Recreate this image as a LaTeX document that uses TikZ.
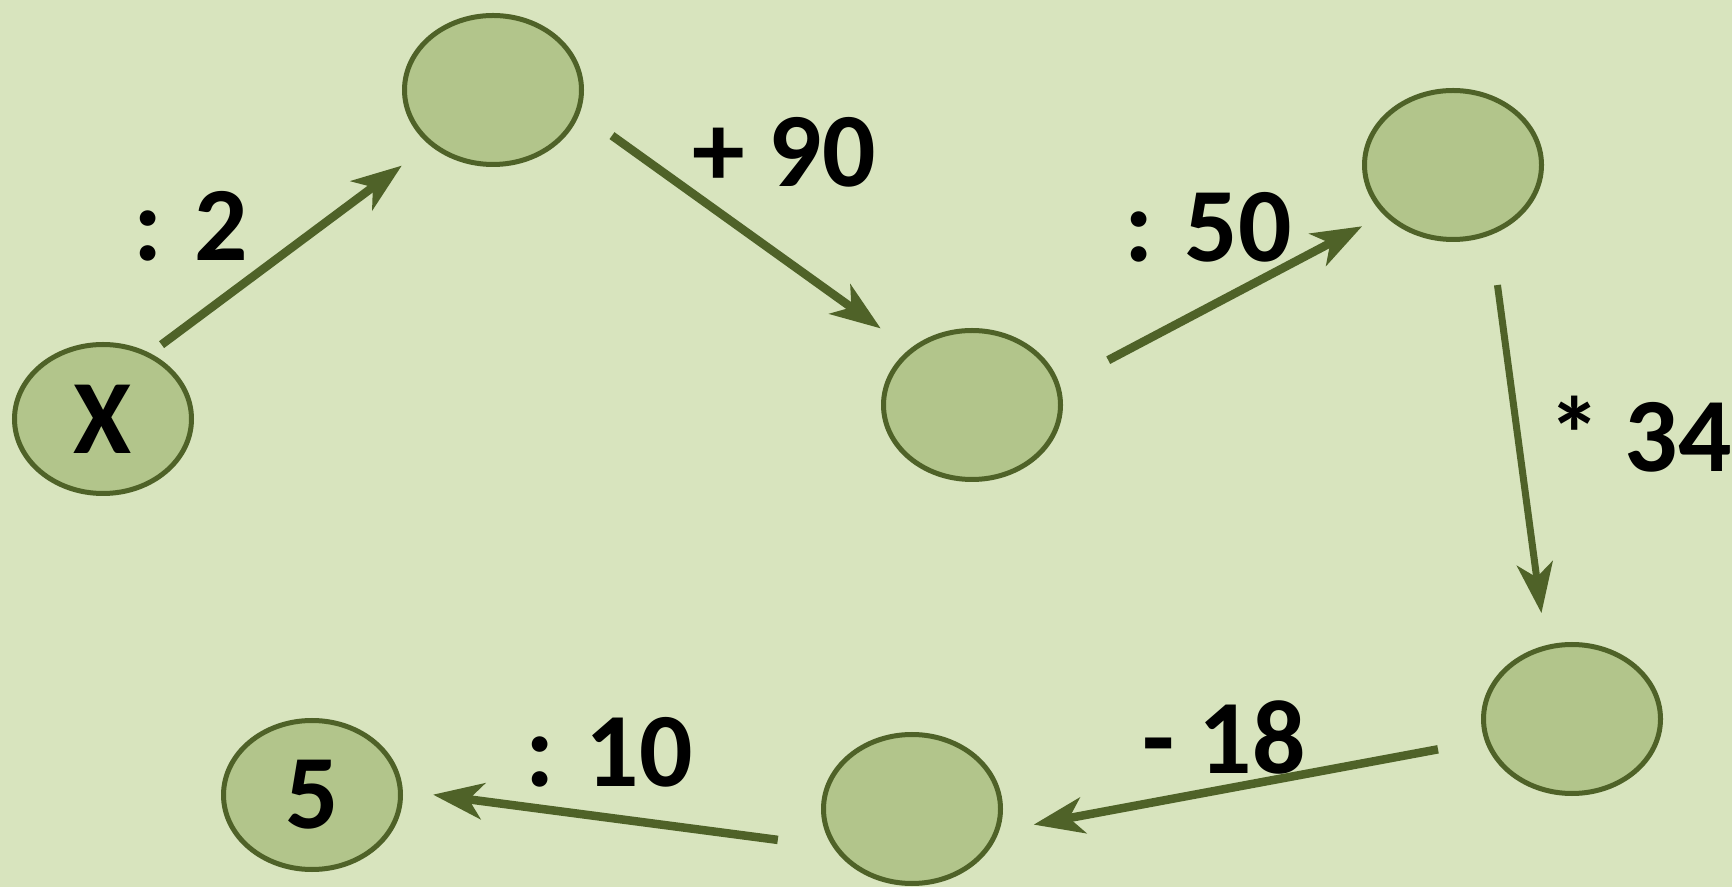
\documentclass[tikz,border=0pt]{standalone}
\usepackage{fontspec}
\setmainfont{Carlito}
\usetikzlibrary{arrows.meta, shapes.geometric}
\definecolor{bgcol}{HTML}{D8E4BE}
\definecolor{nodefill}{HTML}{B2C58B}
\definecolor{olive}{HTML}{4F6228}

\begin{document}
\begin{tikzpicture}[
    bubble/.style={ellipse, draw=olive, fill=nodefill, line width=0.05cm,
        minimum width=1.77cm, minimum height=1.49cm, inner sep=0pt, outer sep=0pt,
        font=\fontsize{30}{30}\selectfont\bfseries},
    flow/.style={draw=olive, line width=0.085cm,
        -{Stealth[length=0.5cm, width=0.36cm, inset=0.14cm]}},
    op/.style={font=\fontsize{30}{30}\selectfont\bfseries, inner sep=0pt}
]
    \fill[bgcol] (0,0) rectangle (17.32,-8.87);
    \useasboundingbox (0,0) rectangle (17.32,-8.87);

    % the chain of numbers
    \node[bubble] (x) at (1.03,-4.19) {X};
    \node[bubble] (a) at (4.93,-0.90) {};
    \node[bubble] (b) at (9.72,-4.05) {};
    \node[bubble] (c) at (14.53,-1.65) {};
    \node[bubble] (d) at (15.72,-7.19) {};
    \node[bubble] (e) at (9.12,-8.09) {};
    \node[bubble] (y) at (3.12,-7.95) {5};

    % operations
    \node[op] (opa) at (1.91,-2.26) {: 2};
    \node[op] (opb) at (7.84,-1.52) {+ 90};
    \node[op] (opc) at (12.08,-2.27) {: 50};
    \node[op] (opd) at (16.40,-4.34) {* 34};
    \node[op] (ope) at (12.24,-7.37) {- 18};
    \node[op] (opf) at (6.09,-7.52) {: 10};

    % arrows
    \draw[flow, shorten <=0.17cm, shorten >=0.37cm] (x.55) -- (a.221);
    \draw[flow, shorten <=0.42cm, shorten >=0.38cm] (a.346) -- (b.138);
    \draw[flow, shorten <=0.57cm, shorten >=0.27cm] (b.12) -- (c.216);
    \draw[flow, line width=0.07cm, shorten <=0.53cm, shorten >=0.35cm] (c.299) -- (d.110);
    \draw[flow, shorten <=0.50cm, shorten >=0.38cm] (d.194) -- (e.345);
    \draw[flow, shorten <=0.59cm, shorten >=0.33cm] (e.207) -- (y.3);
\end{tikzpicture}
\end{document}
